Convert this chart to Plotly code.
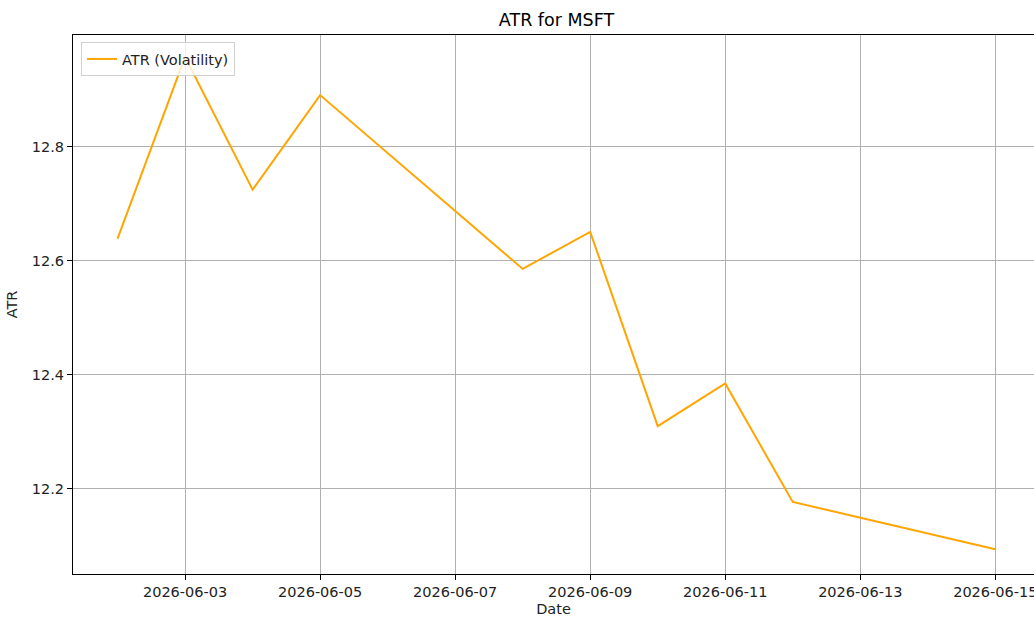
import plotly.graph_objects as go
import pandas as pd

dates = ["2026-06-02", "2026-06-03", "2026-06-04", "2026-06-05", "2026-06-08",
         "2026-06-09", "2026-06-10", "2026-06-11", "2026-06-12", "2026-06-15"]
atr = [12.639, 12.958, 12.725, 12.891, 12.586, 12.651, 12.310, 12.385, 12.177, 12.094]

x_ticks = ["2026-06-03", "2026-06-05", "2026-06-07", "2026-06-09",
           "2026-06-11", "2026-06-13", "2026-06-15"]
y_ticks = [12.2, 12.4, 12.6, 12.8]

W, H = 1034, 617
L, R, T, B = 73, 0, 35, 43

x0 = pd.Timestamp(dates[0]) - pd.Timedelta(days=0.66)
x1 = pd.Timestamp(dates[-1]) + pd.Timedelta(days=0.573)

font = "DejaVu Sans"

fig = go.Figure()
fig.add_trace(go.Scatter(
    x=dates, y=atr, mode="lines", name="ATR (Volatility)",
    line=dict(color="#FFA500", width=2),
))

fig.update_layout(
    width=W, height=H,
    margin=dict(l=L, r=R, t=T, b=B, autoexpand=False),
    paper_bgcolor="white", plot_bgcolor="white",
    font=dict(family=font, size=14, color="#222"),
    title=dict(text="ATR for MSFT", x=(L + (W + 6)) / 2 / W, xanchor="center",
               yref="container", y=1 - 20 / H, yanchor="middle",
               font=dict(size=17.5, color="black", family=font)),
    showlegend=True,
    legend=dict(x=(81 - L) / (W - L), y=1 - (42 - T) / (H - T - B),
                xanchor="left", yanchor="top",
                bgcolor="rgba(255,255,255,0.8)", bordercolor="#d0d0d0", borderwidth=1,
                font=dict(size=14.5, color="#222", family=font)),
)

fig.update_xaxes(
    type="date", range=[x0, x1],
    tickvals=x_ticks, ticktext=x_ticks,
    showgrid=True, gridcolor="#b0b0b0", gridwidth=1,
    showline=True, linecolor="black", linewidth=1, mirror=True,
    ticks="outside", ticklen=5, tickcolor="black", tickwidth=1,
    tickfont=dict(size=14.5, color="#222"), ticklabeloverflow="allow",
    title=dict(text="Date", font=dict(size=14.5, color="#222"), standoff=10),
    zeroline=False, automargin=False,
)
fig.update_yaxes(
    range=[12.0505, 12.9965],
    tickvals=y_ticks, ticktext=[f"{v:.1f}" for v in y_ticks],
    showgrid=True, gridcolor="#b0b0b0", gridwidth=1,
    showline=True, linecolor="black", linewidth=1, mirror=False,
    ticks="outside", ticklen=5, tickcolor="black", tickwidth=1,
    tickfont=dict(size=14.5, color="#222"),
    title=dict(text="ATR", font=dict(size=14.5, color="#222"), standoff=10),
    zeroline=False, automargin=False,
)

fig.write_html("out.html", config={"displayModeBar": False},
               post_script="document.body.style.margin='0';document.body.style.overflow='hidden';")
